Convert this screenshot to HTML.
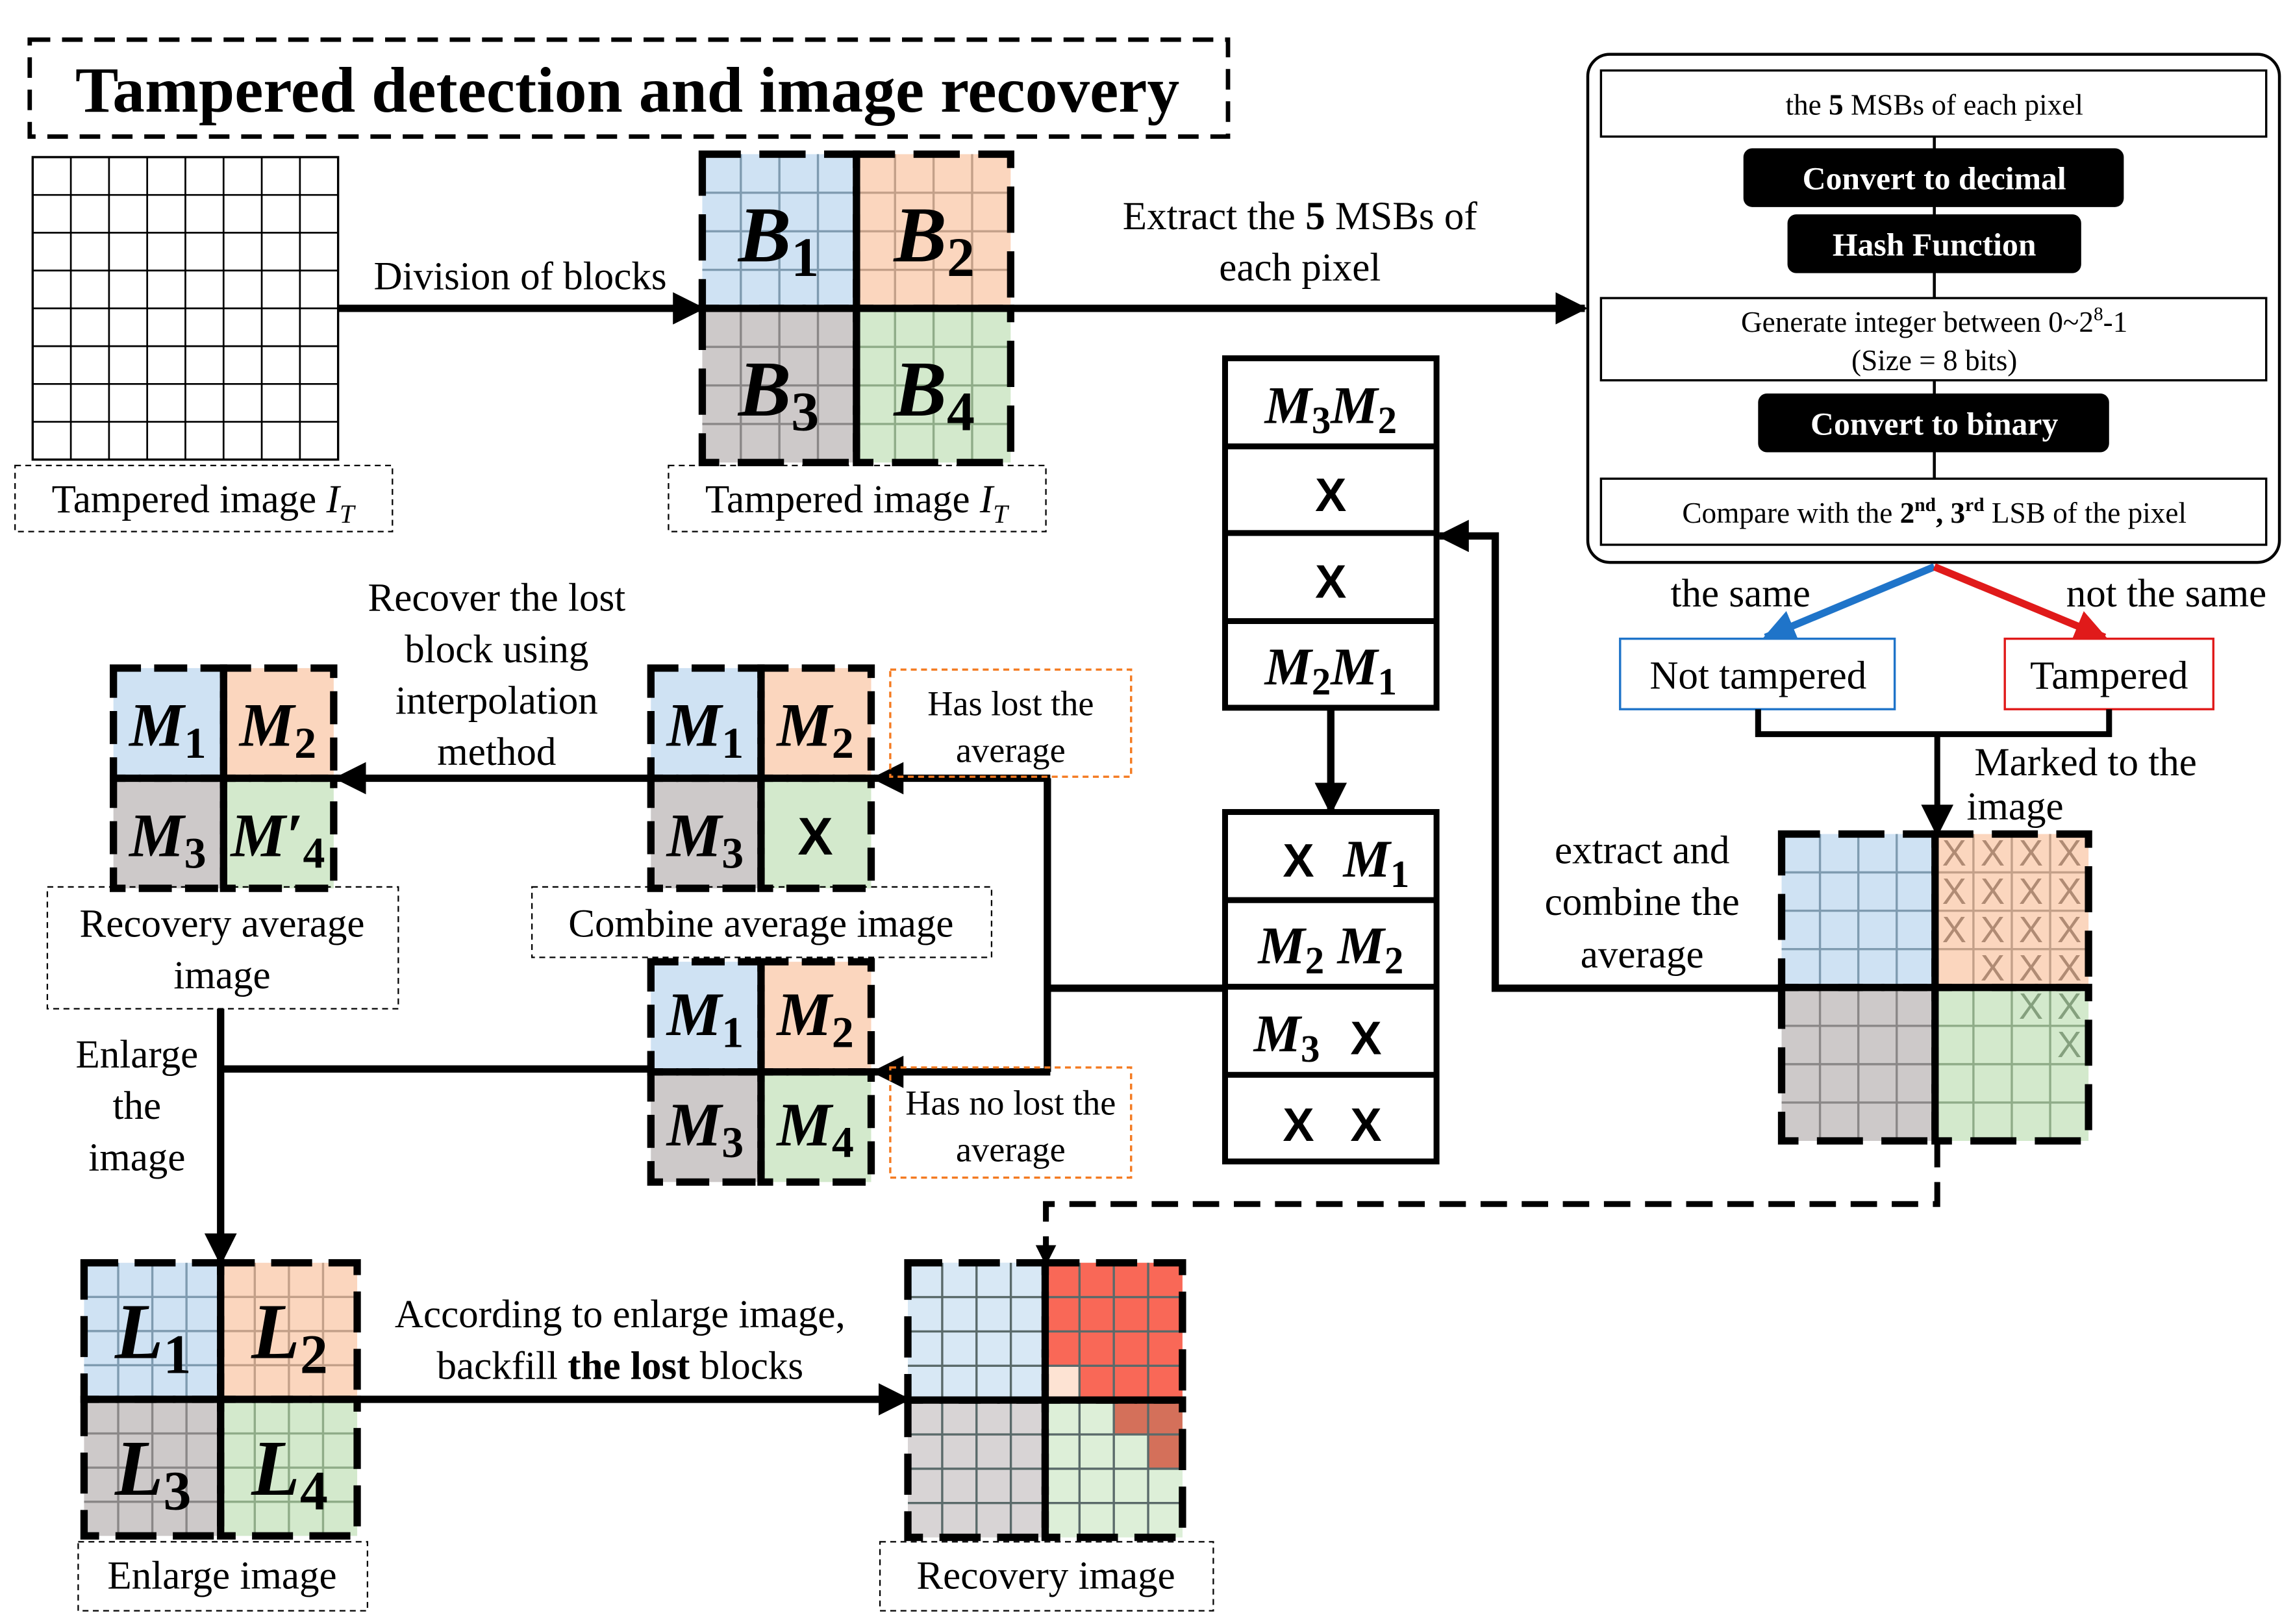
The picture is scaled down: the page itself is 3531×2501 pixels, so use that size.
<!DOCTYPE html>
<html><head><meta charset="utf-8"><style>
html,body{margin:0;padding:0;background:#fff;}
svg{display:block;}
text{font-family:"Liberation Serif",serif;}
.t{font-size:27px;text-anchor:middle;}
.s{font-size:20px;text-anchor:middle;}
.w{font-size:22px;font-weight:bold;fill:#fff;text-anchor:middle;}
.bl{font-weight:bold;font-style:italic;text-anchor:middle;}
.bl tspan.n{font-style:normal;}
.tb{font-family:"Liberation Sans",sans-serif;font-weight:bold;font-size:32px;text-anchor:middle;}
</style></head><body>
<svg id="s" width="3531" height="2501" viewBox="0 0 1561 1106" xmlns="http://www.w3.org/2000/svg">
<defs>
<marker id="ahb" markerWidth="22" markerHeight="22" refX="20" refY="11" orient="auto" markerUnits="userSpaceOnUse" viewBox="0 0 22 22"><path d="M0,0 L22,11 L0,22 z" fill="#000"/></marker>
<marker id="ahB" markerWidth="22" markerHeight="22" refX="20" refY="11" orient="auto" markerUnits="userSpaceOnUse" viewBox="0 0 22 22"><path d="M0,0 L22,11 L0,22 z" fill="#1f74c9"/></marker>
<marker id="ahR" markerWidth="22" markerHeight="22" refX="20" refY="11" orient="auto" markerUnits="userSpaceOnUse" viewBox="0 0 22 22"><path d="M0,0 L22,11 L0,22 z" fill="#e01a1a"/></marker>
</defs>
<g id="blocks"></g>

<!-- title -->
<rect x="20" y="27" width="816" height="66" fill="none" stroke="#000" stroke-width="3" stroke-dasharray="14 8"/>
<text x="427" y="76" style="font-size:44px;font-weight:bold;text-anchor:middle">Tampered detection and image recovery</text>

<rect x="10" y="317" width="257" height="45" fill="none" stroke="#000" stroke-width="1" stroke-dasharray="4 3"/>
<text x="138" y="349" class="t">Tampered image <tspan font-style="italic">I</tspan><tspan font-style="italic" font-size="18" dy="7">T</tspan></text>
<rect x="455" y="317" width="257" height="45" fill="none" stroke="#000" stroke-width="1" stroke-dasharray="4 3"/>
<text x="583" y="349" class="t">Tampered image <tspan font-style="italic">I</tspan><tspan font-style="italic" font-size="18" dy="7">T</tspan></text>

<line x1="230" y1="210" x2="478" y2="210" stroke="#000" stroke-width="5" marker-end="url(#ahb)"/>
<text x="354" y="197" class="t">Division of blocks</text>
<line x1="688" y1="210" x2="1079" y2="210" stroke="#000" stroke-width="5" marker-end="url(#ahb)"/>
<text x="885" y="156" class="t">Extract the <tspan font-weight="bold">5</tspan> MSBs of</text>
<text x="885" y="191" class="t">each pixel</text>

<text x="530" y="178" class="bl" font-size="54">B<tspan class="n" font-size="38" dy="10">1</tspan></text>
<text x="636" y="178" class="bl" font-size="54">B<tspan class="n" font-size="38" dy="10">2</tspan></text>
<text x="530" y="283" class="bl" font-size="54">B<tspan class="n" font-size="38" dy="10">3</tspan></text>
<text x="636" y="283" class="bl" font-size="54">B<tspan class="n" font-size="38" dy="10">4</tspan></text>

<!-- right panel -->
<rect x="1081" y="37" width="471" height="346" rx="15" fill="#fff" stroke="#000" stroke-width="2"/>
<line x1="1317" y1="93" x2="1317" y2="326" stroke="#000" stroke-width="2"/>
<rect x="1090" y="48" width="453" height="45" fill="#fff" stroke="#000" stroke-width="1.5"/>
<text x="1317" y="78" class="s">the <tspan font-weight="bold">5</tspan> MSBs of each pixel</text>
<rect x="1187" y="101" width="259" height="40" rx="6" fill="#000"/>
<text x="1317" y="129" class="w">Convert to decimal</text>
<rect x="1217" y="146" width="200" height="40" rx="6" fill="#000"/>
<text x="1317" y="174" class="w">Hash Function</text>
<rect x="1090" y="203" width="453" height="56" fill="#fff" stroke="#000" stroke-width="1.5"/>
<text x="1317" y="226" class="s">Generate integer between 0~2<tspan font-size="13" dy="-8">8</tspan><tspan dy="8">-1</tspan></text>
<text x="1317" y="252" class="s">(Size = 8 bits)</text>
<rect x="1197" y="268" width="239" height="40" rx="6" fill="#000"/>
<text x="1317" y="296" class="w">Convert to binary</text>
<rect x="1090" y="326" width="453" height="45" fill="#fff" stroke="#000" stroke-width="1.5"/>
<text x="1317" y="356" class="s">Compare with the <tspan font-weight="bold">2<tspan font-size="13" dy="-8">nd</tspan><tspan dy="8">, 3</tspan><tspan font-size="13" dy="-8">rd</tspan></tspan><tspan dy="8"> LSB of the pixel</tspan></text>

<line x1="1317" y1="386" x2="1202" y2="434" stroke="#1f74c9" stroke-width="5" marker-end="url(#ahB)"/>
<line x1="1317" y1="386" x2="1433" y2="434" stroke="#e01a1a" stroke-width="5" marker-end="url(#ahR)"/>
<text x="1185" y="413" class="t">the same</text>
<text x="1475" y="413" class="t">not the same</text>
<rect x="1103" y="435" width="187" height="48" fill="#fff" stroke="#1f74c9" stroke-width="1.5"/>
<text x="1197" y="469" class="t">Not tampered</text>
<rect x="1365" y="435" width="142" height="48" fill="#fff" stroke="#e01a1a" stroke-width="1.5"/>
<text x="1436" y="469" class="t">Tampered</text>
<polyline points="1197,483 1197,500 1436,500 1436,483" fill="none" stroke="#000" stroke-width="4"/>
<line x1="1319" y1="500" x2="1319" y2="568" stroke="#000" stroke-width="4" marker-end="url(#ahb)"/>
<text x="1420" y="528" class="t">Marked to the</text>
<text x="1372" y="558" class="t">image</text>

<polyline points="1213,673 1018,673 1018,365 980,365" fill="none" stroke="#000" stroke-width="5" marker-end="url(#ahb)"/>
<text x="1118" y="588" class="t">extract and</text>
<text x="1118" y="623" class="t">combine the</text>
<text x="1118" y="659" class="t">average</text>

<!-- tables -->
<g fill="#fff" stroke="#000" stroke-width="4">
<rect x="834" y="244" width="144" height="238"/>
<line x1="834" y1="304" x2="978" y2="304"/><line x1="834" y1="363" x2="978" y2="363"/><line x1="834" y1="423" x2="978" y2="423"/>
<rect x="834" y="553" width="144" height="238"/>
<line x1="834" y1="613" x2="978" y2="613"/><line x1="834" y1="672" x2="978" y2="672"/><line x1="834" y1="732" x2="978" y2="732"/>
</g>
<text x="906" y="288" class="bl" font-size="36">M<tspan class="n" font-size="26" dy="7">3</tspan><tspan dy="-7">M</tspan><tspan class="n" font-size="26" dy="7">2</tspan></text>
<text x="906" y="348" class="tb">X</text>
<text x="906" y="407" class="tb">X</text>
<text x="906" y="466" class="bl" font-size="36">M<tspan class="n" font-size="26" dy="7">2</tspan><tspan dy="-7">M</tspan><tspan class="n" font-size="26" dy="7">1</tspan></text>
<text x="884" y="597" class="tb">X</text>
<text x="937" y="597" class="bl" font-size="36">M<tspan class="n" font-size="26" dy="7">1</tspan></text>
<text x="906" y="656" class="bl" font-size="36">M<tspan class="n" font-size="26" dy="7">2</tspan><tspan dy="-7"> M</tspan><tspan class="n" font-size="26" dy="7">2</tspan></text>
<text x="876" y="716" class="bl" font-size="36">M<tspan class="n" font-size="26" dy="7">3</tspan></text>
<text x="930" y="718" class="tb">X</text>
<text x="884" y="777" class="tb">X</text>
<text x="930" y="777" class="tb">X</text>
<line x1="906" y1="482" x2="906" y2="553" stroke="#000" stroke-width="5" marker-end="url(#ahb)"/>

<line x1="834" y1="673" x2="713" y2="673" stroke="#000" stroke-width="5"/>
<polyline points="713,530 713,730" fill="none" stroke="#000" stroke-width="5"/>
<line x1="715" y1="530" x2="595" y2="530" stroke="#000" stroke-width="5" marker-end="url(#ahb)"/>
<line x1="715" y1="730" x2="595" y2="730" stroke="#000" stroke-width="5" marker-end="url(#ahb)"/>
<rect x="606" y="456" width="164" height="73" fill="none" stroke="#f47a20" stroke-width="1.5" stroke-dasharray="4 3"/>
<text x="688" y="487" style="font-size:24px;text-anchor:middle">Has lost the</text>
<text x="688" y="519" style="font-size:24px;text-anchor:middle">average</text>
<rect x="606" y="727" width="164" height="75" fill="none" stroke="#f47a20" stroke-width="1.5" stroke-dasharray="4 3"/>
<text x="688" y="759" style="font-size:24px;text-anchor:middle">Has no lost the</text>
<text x="688" y="791" style="font-size:24px;text-anchor:middle">average</text>
<rect x="362" y="604" width="313" height="48" fill="none" stroke="#000" stroke-width="1" stroke-dasharray="4 3"/>
<text x="518" y="638" class="t">Combine average image</text>

<line x1="443" y1="530" x2="229" y2="530" stroke="#000" stroke-width="5" marker-end="url(#ahb)"/>
<text x="338" y="416" class="t">Recover the lost</text>
<text x="338" y="451" class="t">block using</text>
<text x="338" y="486" class="t">interpolation</text>
<text x="338" y="521" class="t">method</text>
<rect x="32" y="604" width="239" height="83" fill="none" stroke="#000" stroke-width="1" stroke-dasharray="4 3"/>
<text x="151" y="638" class="t">Recovery average</text>
<text x="151" y="673" class="t">image</text>

<polyline points="443,728 150,728" fill="none" stroke="#000" stroke-width="5"/>
<line x1="150" y1="687" x2="150" y2="860" stroke="#000" stroke-width="5" marker-end="url(#ahb)"/>
<text x="93" y="727" class="t">Enlarge</text>
<text x="93" y="762" class="t">the</text>
<text x="93" y="797" class="t">image</text>

<text x="480" y="508" class="bl" font-size="42">M<tspan class="n" font-size="30" dy="8">1</tspan></text>
<text x="555" y="508" class="bl" font-size="42">M<tspan class="n" font-size="30" dy="8">2</tspan></text>
<text x="480" y="583" class="bl" font-size="42">M<tspan class="n" font-size="30" dy="8">3</tspan></text>
<text x="555" y="582" class="tb" style="font-size:36px">X</text>
<text x="480" y="705" class="bl" font-size="42">M<tspan class="n" font-size="30" dy="8">1</tspan></text>
<text x="555" y="705" class="bl" font-size="42">M<tspan class="n" font-size="30" dy="8">2</tspan></text>
<text x="480" y="780" class="bl" font-size="42">M<tspan class="n" font-size="30" dy="8">3</tspan></text>
<text x="555" y="780" class="bl" font-size="42">M<tspan class="n" font-size="30" dy="8">4</tspan></text>
<text x="114" y="508" class="bl" font-size="42">M<tspan class="n" font-size="30" dy="8">1</tspan></text>
<text x="189" y="508" class="bl" font-size="42">M<tspan class="n" font-size="30" dy="8">2</tspan></text>
<text x="114" y="583" class="bl" font-size="42">M<tspan class="n" font-size="30" dy="8">3</tspan></text>
<text x="189" y="583" class="bl" font-size="42">M′<tspan class="n" font-size="30" dy="8">4</tspan></text>

<text x="104" y="925" class="bl" font-size="54">L<tspan class="n" font-size="38" dy="10">1</tspan></text>
<text x="197" y="925" class="bl" font-size="54">L<tspan class="n" font-size="38" dy="10">2</tspan></text>
<text x="104" y="1018" class="bl" font-size="54">L<tspan class="n" font-size="38" dy="10">3</tspan></text>
<text x="197" y="1018" class="bl" font-size="54">L<tspan class="n" font-size="38" dy="10">4</tspan></text>
<rect x="53" y="1050" width="197" height="47" fill="none" stroke="#000" stroke-width="1" stroke-dasharray="4 3"/>
<text x="151" y="1082" class="t">Enlarge image</text>

<line x1="243" y1="953" x2="618" y2="953" stroke="#000" stroke-width="5" marker-end="url(#ahb)"/>
<text x="422" y="904" class="t">According to enlarge image,</text>
<text x="422" y="939" class="t">backfill <tspan font-weight="bold">the lost</tspan> blocks</text>
<rect x="599" y="1050" width="227" height="47" fill="none" stroke="#000" stroke-width="1" stroke-dasharray="4 3"/>
<text x="712" y="1082" class="t">Recovery image</text>

<polyline points="1319,777 1319,820 712,820 712,858" fill="none" stroke="#000" stroke-width="4" stroke-dasharray="18 10"/>
<path d="M705,848 L719,848 L712,862 z" fill="#000"/>
</svg>
<script>
(function(){
var NS="http://www.w3.org/2000/svg",g=document.getElementById("blocks");
function el(n,a){var e=document.createElementNS(NS,n);for(var k in a)e.setAttribute(k,a[k]);g.appendChild(e);return e;}
var C=[["#cfe2f3","#7f9bb0"],["#fbd6be","#c3a089"],["#cdc9c9","#8a8787"],["#d3e9cc","#8fac88"]];
function block(x,y,s,n,opt){
  opt=opt||{};var q=s/2;
  for(var i=0;i<4;i++){
    var qx=x+(i%2)*q,qy=y+Math.floor(i/2)*q,c=C[i];
    el("rect",{x:qx,y:qy,width:q,height:q,fill:c[0]});
    if(opt.cells){for(var r=0;r<n;r++)for(var cc=0;cc<n;cc++){var f=opt.cells(i,r,cc);if(f)el("rect",{x:qx+cc*q/n,y:qy+r*q/n,width:q/n,height:q/n,fill:f});}}
    if(n>1){for(var k=1;k<n;k++){
      el("line",{x1:qx+k*q/n,y1:qy,x2:qx+k*q/n,y2:qy+q,stroke:opt.gl||c[1],"stroke-width":1.5});
      el("line",{x1:qx,y1:qy+k*q/n,x2:qx+q,y2:qy+k*q/n,stroke:opt.gl||c[1],"stroke-width":1.5});}}
    if(opt.xs){for(var r=0;r<n;r++)for(var cc=0;cc<n;cc++){if(opt.xs(i,r,cc)){var t=el("text",{x:qx+cc*q/n+q/n/2,y:qy+r*q/n+q/n*0.82,style:"font-family:'Liberation Sans',sans-serif;font-size:"+(q/n*0.95)+"px;text-anchor:middle;fill:"+(i==1?"#b08b74":"#85a07e")});t.textContent="X";}}}
  }
  for(var i=0;i<4;i++){
    var qx=x+(i%2)*q,qy=y+Math.floor(i/2)*q;
    el("rect",{x:qx,y:qy,width:q,height:q,fill:"none",stroke:"#000","stroke-width":5,"stroke-dasharray":(q*0.3)+" "+(q*0.12),"stroke-dashoffset":q*0.05});
  }
}
el("rect",{x:22,y:107,width:208,height:206,fill:"#fff",stroke:"#000","stroke-width":1.5});
for(var k=1;k<8;k++){el("line",{x1:22+k*26,y1:107,x2:22+k*26,y2:313,stroke:"#000","stroke-width":1.2});el("line",{x1:22,y1:107+k*25.75,x2:230,y2:107+k*25.75,stroke:"#000","stroke-width":1.2});}
block(478,105,210,4);
block(443,455,150,1);
block(443,655,150,1);
block(77,455,150,1);
block(57,860,186,4);
block(1213,568,209,4,{xs:function(i,r,c){return (i==1&&!(r==3&&c==0))||(i==3&&((r==0&&c>=2)||(r==1&&c==3)));}});
block(618,860,187,4,{gl:"#5a6a6a",cells:function(i,r,c){
  if(i==1)return (r==3&&c==0)?"#fde3d3":"#f96857";
  if(i==3&&((r==0&&c>=2)||(r==1&&c==3)))return "#d4705a";
  if(i==0)return "#d8e8f5";if(i==2)return "#d8d4d5";if(i==3)return "#ddefd8";return null;}});
})();
</script>
</body></html>
